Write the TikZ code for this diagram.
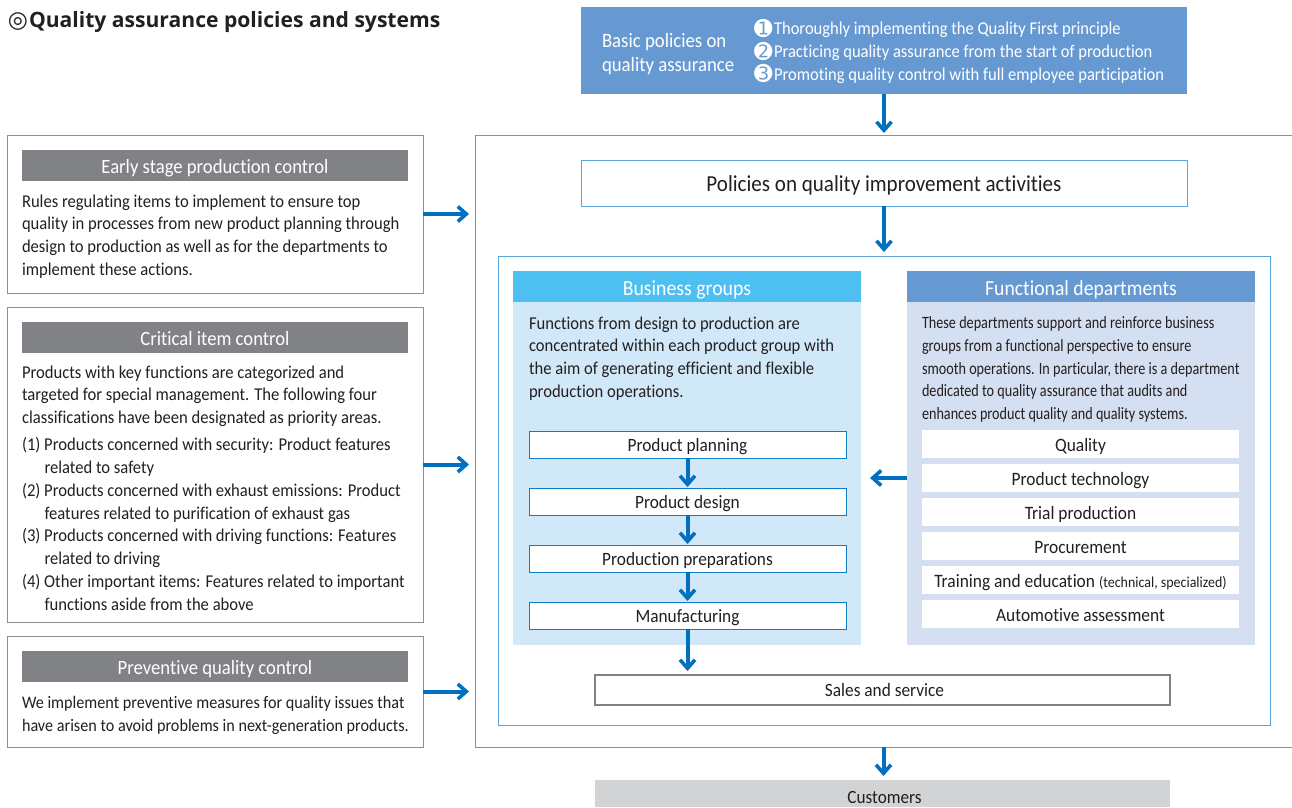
\documentclass[tikz,border=0pt]{standalone}
\usepackage{fontspec}
\setmainfont{Carlito}[FakeStretch=0.92,Ligatures=NoCommon]
\newfontfamily\narrowf{Carlito}[FakeStretch=0.82,Ligatures=NoCommon]
\newfontfamily\boldf{Open Sans}
\newfontfamily\symf{DejaVu Sans}
\usetikzlibrary{arrows.meta,calc}
\definecolor{flow}{HTML}{0070BF}
\definecolor{midblue}{HTML}{6699D2}
\definecolor{skyhead}{HTML}{4DBFF0}
\definecolor{skypanel}{HTML}{D0E8F8}
\definecolor{funcpanel}{HTML}{D4DFF1}
\definecolor{framegray}{HTML}{8F8F8F}
\definecolor{headgray}{HTML}{808285}
\definecolor{custgray}{HTML}{D1D3D4}
\definecolor{linkblue}{HTML}{5AA5DC}
\definecolor{inktext}{HTML}{231F20}
\newcommand{\numc}[1]{\makebox[20pt][l]{\symf\fontsize{22}{20}\selectfont\raisebox{-1.5pt}{#1}}}
\tikzset{
  x=1pt,y=-1pt,
  every node/.style={inner sep=0,outer sep=0,text=inktext},
  box/.style n args={4}{minimum width=#3-#1,minimum height=#4-#2,anchor=north west,text height=13pt,text depth=0pt},
  flowarrow/.style={draw=flow,line width=4pt,-{Straight Barb[length=8.5pt,width=15pt,line width=3.6pt]}},
  frame/.style={draw=framegray,line width=1pt,fill=white},
  bluebox/.style={draw=linkblue,line width=1pt,fill=white},
  flowbox/.style={draw=flow!80!linkblue,line width=1pt,fill=white,font=\fontsize{18.8}{20}\selectfont},
  funcbox/.style={fill=white,font=\fontsize{18.9}{20}\selectfont,text height=15pt},
  graybar/.style={fill=headgray,text=white,font=\fontsize{20.3}{20}\selectfont,text height=15pt},
  body/.style={anchor=north west,align=left,font=\fontsize{18.05}{22.8}\selectfont,execute at begin node={\rule{0pt}{14pt}}},
  bodyn/.style={anchor=north west,align=left,font=\narrowf\fontsize{17.3}{22.8}\selectfont,execute at begin node={\rule{0pt}{14pt}}},
}
\begin{document}
\begin{tikzpicture}
\useasboundingbox (0,0) rectangle (1292,807);
\node[anchor=west,font=\boldf\bfseries\fontsize{21.1}{24}\selectfont] (title) at (8,22) {\makebox[21pt][l]{\symf\mdseries\fontsize{23}{24}\selectfont ◎}Quality assurance policies and systems};

% top
\node[box={581}{7}{1187}{94},fill=midblue] (basic) at (581,7) {};
\node[anchor=west,align=left,text=white,font=\fontsize{20.4}{24}\selectfont] (basict) at (602,54) {Basic policies on\\quality assurance};
\node[anchor=north west,align=left,text=white,font=\fontsize{18}{22.9}\selectfont,execute at begin node={\rule{0pt}{14pt}}] (plist) at (754,19) {%
\numc{➊}Thoroughly implementing the Quality First principle\\
\numc{➋}Practicing quality assurance from the start of production\\
\numc{➌}Promoting quality control with full employee participation};

% outer frames
\node[box={475}{135}{1292}{747},frame] (outer) at (475,135) {};
\node[box={581}{160}{1187}{206},bluebox,font=\fontsize{22.9}{24}\selectfont,text height=16pt] (pol) at (581,160) {Policies on quality improvement activities};
\node[box={498}{256}{1270}{725},bluebox] (inner) at (498,256) {};

% business groups
\node[box={513}{271}{861}{645},fill=skypanel] (biz) at (513,271) {};
\node[box={513}{271}{861}{302},fill=skyhead,text=white,font=\fontsize{21.5}{22}\selectfont,text height=18pt] (bizh) at (513,271) {Business groups};
\node[body] (bizt) at (529,316.5) {Functions from design to production are\\concentrated within each product group with\\the aim of generating efficient and flexible\\production operations.};
\node[box={529}{431}{846}{458},flowbox] (f1) at (529,431) {Product planning};
\node[box={529}{488}{846}{515},flowbox] (f2) at (529,488) {Product design};
\node[box={529}{545}{846}{572},flowbox] (f3) at (529,545) {Production preparations};
\node[box={529}{602}{846}{629},flowbox] (f4) at (529,602) {Manufacturing};

% functional departments
\node[box={907}{271}{1255}{645},fill=funcpanel] (func) at (907,271) {};
\node[box={907}{271}{1255}{302},fill=midblue,text=white,font=\fontsize{21.4}{22}\selectfont,text height=18pt] (funch) at (907,271) {Functional departments};
\node[bodyn] (funct) at (922,316.5) {These departments support and reinforce business\\groups from a functional perspective to ensure\\smooth operations. In particular, there is a department\\dedicated to quality assurance that audits and\\enhances product quality and quality systems.};
\node[box={922}{430}{1239}{458},funcbox] (d1) at (922,430) {Quality};
\node[box={922}{464}{1239}{492},funcbox] (d2) at (922,464) {Product technology};
\node[box={922}{498}{1239}{526},funcbox] (d3) at (922,498) {Trial production};
\node[box={922}{532}{1239}{560},funcbox] (d4) at (922,532) {Procurement};
\node[box={922}{566}{1239}{594},funcbox] (d5) at (922,566) {Training and education {\fontsize{15.2}{16}\selectfont (technical, specialized)}};
\node[box={922}{600}{1239}{628},funcbox] (d6) at (922,600) {Automotive assessment};

\node[box={595}{675}{1170}{705},draw=headgray,line width=1.1pt,fill=white,font=\fontsize{18.8}{20}\selectfont] (sales) at (595,675) {\hspace*{4pt}Sales and service};
\node[box={595}{780}{1170}{807},fill=custgray,font=\fontsize{18.7}{20}\selectfont,text height=19pt] (cust) at (595,780) {\hspace*{4pt}Customers};

% left panels
\node[box={7}{135}{423}{293},frame] (early) at (7,135) {};
\node[box={22}{150}{408}{181},graybar] (earlyh) at (22,150) {Early stage production control};
\node[body] (earlyt) at (22,194.5) {Rules regulating items to implement to ensure top\\quality in processes from new product planning through\\design to production as well as for the departments to\\implement these actions.};

\node[box={7}{307}{423}{622},frame] (crit) at (7,307) {};
\node[box={22}{322}{408}{353},graybar] (crith) at (22,322) {Critical item control};
\node[body] (critt) at (22,365.5) {Products with key functions are categorized and\\targeted for special management. The following four\\classifications have been designated as priority areas.};
\node[body] (c1) at (22,437.5) {(1) Products concerned with security: Product features\\\hspace*{22.5pt}related to safety};
\node[body] (c2) at (22,483.5) {(2) Products concerned with exhaust emissions: Product\\\hspace*{22.5pt}features related to purification of exhaust gas};
\node[body] (c3) at (22,528.5) {(3) Products concerned with driving functions: Features\\\hspace*{22.5pt}related to driving};
\node[body] (c4) at (22,574.5) {(4) Other important items: Features related to important\\\hspace*{22.5pt}functions aside from the above};

\node[box={7}{636}{423}{747},frame] (prev) at (7,636) {};
\node[box={22}{651}{408}{682},graybar] (prevh) at (22,651) {Preventive quality control};
\node[body,font=\fontsize{17.6}{22.8}\selectfont] (prevt) at (22,696) {We implement preventive measures for quality issues that\\have arisen to avoid problems in next-generation products.};

% connectors
\draw[flowarrow,shorten >=2pt] (basic.south) -- (basic.south |- outer.north);
\draw[flowarrow,shorten >=4pt] (pol.south) -- (pol.south |- inner.north);
\draw[flowarrow,shorten >=1pt] (f1.south) -- (f2.north);
\draw[flowarrow,shorten >=1pt] (f2.south) -- (f3.north);
\draw[flowarrow,shorten >=1pt] (f3.south) -- (f4.north);
\draw[flowarrow,shorten >=4pt] (f4.south) -- (f4.south |- sales.north);
\draw[flowarrow,shorten >=4pt] (outer.south) -- (outer.south |- cust.north);
\draw[flowarrow,shorten >=9pt] (func.west |- d2.center) -- (biz.east |- d2.center);
\draw[flowarrow,shorten >=6pt] (early.east) -- (outer.west |- early.east);
\draw[flowarrow,shorten >=6pt] (crit.east) -- (outer.west |- crit.east);
\draw[flowarrow,shorten >=6pt] (prev.east) -- (outer.west |- prev.east);
\end{tikzpicture}
\end{document}
